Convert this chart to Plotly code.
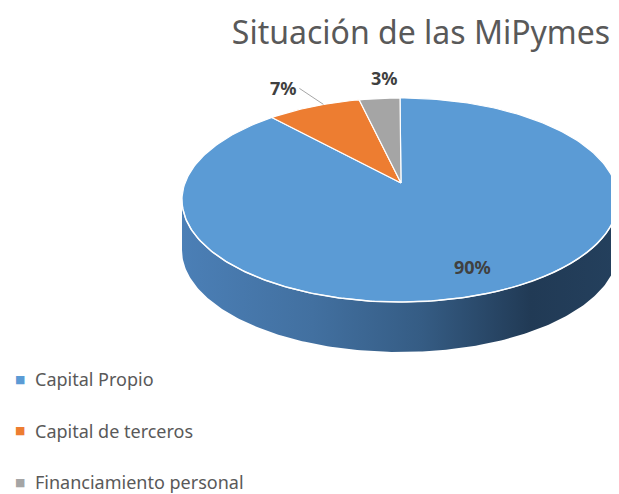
import numpy as np
import plotly.graph_objects as go

# ---- data ----
categories = ["Capital Propio", "Capital de terceros", "Financiamiento personal"]
values = [90, 7, 3]
colors = ["#5b9bd5", "#ed7d31", "#a5a5a5"]
title_text = "Situación de las MiPymes"

# ---- page / geometry (page pixel space) ----
W, H = 619, 494
OFF = 8                 # default page body margin
FW, FH = W - OFF, 600   # figure taller than the window so nothing pushes margins
cx, cy = 400, 200       # top ellipse centre
rx, ry = 218, 102       # top ellipse radii
ax_, ay_ = 401, 183     # apex of slices (perspective)
depth = 50
leg_x, leg_y0, leg_step = 20, 379, 51.5

def pt(t, dy=0.0):
    return cx + rx * np.sin(t), cy - ry * np.cos(t) + dy

def py2paper(py):
    return 1 - (py - OFF) / FH

def px2paper(px):
    return (px - OFF) / FW

fig = go.Figure()

# side wall (front half; visible part belongs to first slice)
ts = np.linspace(np.pi / 2, 3 * np.pi / 2, 200)
xt, yt = pt(ts)
xb, yb = pt(ts[::-1], depth)
fig.add_trace(go.Scatter(
    x=np.concatenate([xt, xb, xt[:1]]), y=np.concatenate([yt, yb, yt[:1]]),
    mode="lines", line=dict(width=0), fill="toself",
    fillgradient=dict(type="horizontal",
                      colorscale=[[0, "#4b7fb6"], [0.3, "#4270a0"], [0.55, "#355c84"],
                                  [0.8, "#213a55"], [1, "#24405d"]]),
    hoverinfo="skip", showlegend=False))

# top slices
total = sum(values)
cum = 0.0
for cat, v, c in zip(categories, values, colors):
    t0 = 2 * np.pi * cum / total
    t1 = 2 * np.pi * (cum + v) / total
    tt = np.linspace(t0, t1, max(int(300 * v / total), 8))
    px, py = pt(tt)
    fig.add_trace(go.Scatter(
        x=np.concatenate([[ax_], px, [ax_]]), y=np.concatenate([[ay_], py, [ay_]]),
        mode="lines", line=dict(color="white", width=1.2), fill="toself",
        fillcolor=c, name=cat, hoverinfo="name", showlegend=False))
    cum += v

# highlight edge on front rim
hx, hy = pt(np.linspace(np.pi / 2 + 0.05, 3 * np.pi / 2 - 0.05, 200))
fig.add_trace(go.Scatter(x=hx, y=hy, mode="lines",
                         line=dict(color="rgba(255,255,255,0.9)", width=1.5),
                         hoverinfo="skip", showlegend=False))

# data labels
cum = 0.0
label_cfg = [
    dict(dx=71, dy=84, arrow=False, size=18),
    dict(dx=-38, dy=-17, arrow=True, size=18),
    dict(dx=5, dy=-20, arrow=False, size=18),
]
for v, cfg in zip(values, label_cfg):
    tm = 2 * np.pi * (cum + v / 2) / total
    mx, my = pt(tm)
    txt = f"<b>{round(100 * v / total)}%</b>"
    font = dict(size=cfg["size"], color="#404040", family="Noto Sans")
    if cfg["arrow"]:
        fig.add_annotation(x=mx + 10, y=my - 2, text=txt, showarrow=True, arrowhead=0,
                           arrowcolor="#a6a6a6", arrowwidth=1, ax=-24, ay=-16,
                           xref="x", yref="y", axref="pixel", ayref="pixel",
                           font=font, xanchor="right")
    else:
        if v == max(values):
            x_l, y_l = ax_ + cfg["dx"], ay_ + cfg["dy"]
        else:
            x_l, y_l = mx + cfg["dx"], my + cfg["dy"]
        fig.add_annotation(x=x_l, y=y_l, text=txt, showarrow=False, xref="x", yref="y",
                           font=font)
    cum += v

# legend (drawn as text entries)
for i, (cat, c) in enumerate(zip(categories, colors)):
    yy = leg_y0 + i * leg_step
    fig.add_annotation(x=leg_x, y=yy, text="■", showarrow=False, xref="x", yref="y",
                       xanchor="center", yanchor="middle",
                       font=dict(size=11, color=c, family="DejaVu Sans"))
    fig.add_annotation(x=leg_x + 13, y=yy, text=cat, showarrow=False, xref="x", yref="y",
                       xanchor="left", yanchor="middle",
                       font=dict(size=18, color="#595959", family="Noto Sans"))

fig.update_layout(
    width=FW, height=FH,
    margin=dict(l=0, r=0, t=0, b=0),
    paper_bgcolor="white", plot_bgcolor="white",
    xaxis=dict(range=[OFF, OFF + FW], visible=False, fixedrange=True),
    yaxis=dict(range=[OFF + FH, OFF], visible=False, fixedrange=True),
    title=dict(text=title_text, x=px2paper(421), xanchor="center",
               y=py2paper(33), yanchor="middle",
               font=dict(size=32, color="#595959", family="Noto Sans")),
    showlegend=False,
)

fig.write_html("out.html")
